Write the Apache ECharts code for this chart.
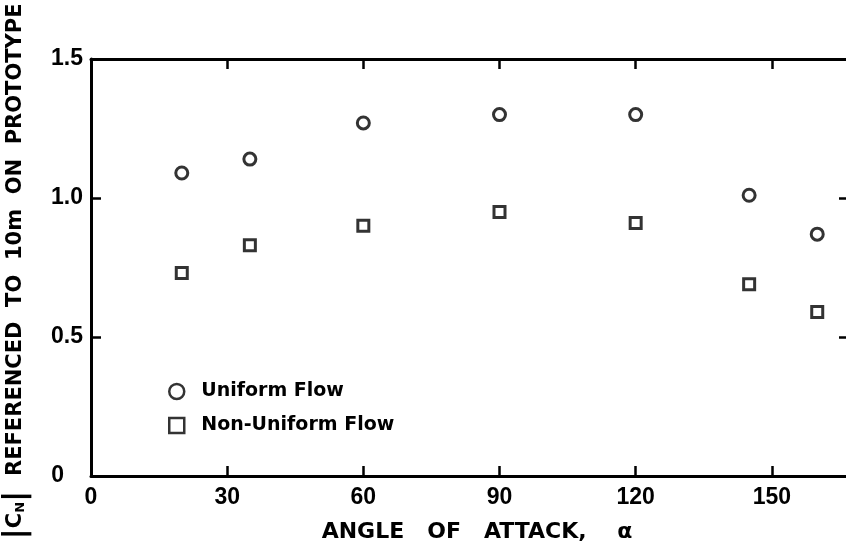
<!DOCTYPE html>
<html>
<head>
<meta charset="utf-8">
<script src="https://cdn.jsdelivr.net/npm/echarts@6/dist/echarts.min.js"></script>
<style>
  html, body { margin: 0; padding: 0; background: #fff; }
  #chart { width: 846px; height: 545px; }
</style>
</head>
<body>
<div id="chart"></div>
<script>
// Angle of attack (degrees) for each measurement
const angles = [20, 35, 60, 90, 120, 145, 160];
// |C_N| referenced to 10 m on prototype
const uniformFlow = [1.09, 1.14, 1.27, 1.30, 1.30, 1.01, 0.87];
const nonUniformFlow = [0.73, 0.83, 0.90, 0.95, 0.91, 0.69, 0.59];
const seriesNames = ['Uniform Flow', 'Non-Uniform Flow'];
const xTicks = [0, 30, 60, 90, 120, 150];
const yTicks = [0, 0.5, 1.0, 1.5];

const INK = '#000';
const FONT = 'DejaVu Sans';
const NUM_FONT = 'Liberation Sans';

const pairs = (xs, ys) => xs.map((x, i) => [x, ys[i]]);

const chart = echarts.init(document.getElementById('chart'), null, { renderer: 'canvas' });

const axisLine = { show: true, onZero: false, lineStyle: { color: INK, width: 3 } };
const tickIn = { show: true, inside: true, length: 10, lineStyle: { color: INK, width: 2.5 } };

chart.setOption({
  backgroundColor: '#fff',
  animation: false,
  grid: { left: 91, top: 59, width: 758, height: 417, containLabel: false, outerBoundsMode: 'none' },
  legend: {
    orient: 'vertical',
    left: 163,
    top: 377,
    itemWidth: 15,
    itemHeight: 15,
    itemGap: 15,
    textStyle: { fontFamily: FONT, fontSize: 19, fontWeight: 'bold', color: INK, padding: [0, 0, 0, 12] },
    data: [
      { name: seriesNames[0], icon: 'circle', itemStyle: { color: '#fff', borderColor: INK, borderWidth: 2.5 } },
      { name: seriesNames[1], icon: 'rect', itemStyle: { color: '#fff', borderColor: INK, borderWidth: 2.5 } }
    ]
  },
  xAxis: [
    {
      type: 'value', position: 'bottom', min: 0, max: 167, interval: 30,
      axisLine, axisTick: tickIn, splitLine: { show: false },
      axisLabel: {
        margin: 10, color: INK, fontFamily: NUM_FONT, fontSize: 23, fontWeight: 'bold',
        showMaxLabel: false,
        formatter: v => (xTicks.includes(v) ? String(v) : '')
      },
      name: 'ANGLE   OF   ATTACK,    α',
      nameLocation: 'middle',
      nameGap: 45,
      nameTextStyle: { color: INK, fontFamily: FONT, fontSize: 22, fontWeight: 'bold', padding: [0, 0, 0, 14] }
    },
    {
      type: 'value', position: 'top', min: 0, max: 167, interval: 30,
      axisLine, axisTick: tickIn, axisLabel: { show: false }, splitLine: { show: false }
    }
  ],
  yAxis: [
    {
      type: 'value', position: 'left', min: 0, max: 1.5, interval: 0.5,
      axisLine, axisTick: tickIn, splitLine: { show: false },
      axisLabel: {
        margin: 8, color: INK, fontFamily: NUM_FONT, fontSize: 23, fontWeight: 'bold',
        formatter: v => (yTicks.includes(v) ? (v === 0 ? '{z|0}' : v.toFixed(1)) : ''),
        rich: { z: { fontFamily: NUM_FONT, fontSize: 23, fontWeight: 'bold', color: INK, padding: [0, 19, 0, 0] } }
      },
      name: '{b||}{c|C}{s|N}{b||}  REFERENCED  TO  10m  ON  PROTOTYPE',
      nameLocation: 'middle',
      nameRotate: 90,
      nameGap: 60,
      nameTextStyle: {
        color: INK, fontFamily: FONT, fontSize: 21, fontWeight: 'bold', padding: [0, 8, 0, 0],
        rich: {
          b: { fontFamily: FONT, fontSize: 31, fontWeight: 'bold', color: INK },
          c: { fontFamily: FONT, fontSize: 21, fontWeight: 'bold', color: INK },
          s: { fontFamily: FONT, fontSize: 13, fontWeight: 'bold', color: INK, padding: [10, 0, 0, 0] }
        }
      }
    },
    {
      type: 'value', position: 'right', min: 0, max: 1.5, interval: 0.5,
      axisLine, axisTick: tickIn, axisLabel: { show: false }, splitLine: { show: false }
    }
  ],
  series: [
    {
      name: seriesNames[0], type: 'scatter', symbol: 'circle', symbolSize: 12,
      itemStyle: { color: '#fff', borderColor: INK, borderWidth: 3 },
      data: pairs(angles, uniformFlow)
    },
    {
      name: seriesNames[1], type: 'scatter', symbol: 'rect', symbolSize: 11,
      itemStyle: { color: '#fff', borderColor: INK, borderWidth: 3 },
      data: pairs(angles, nonUniformFlow)
    }
  ]
});
</script>
</body>
</html>
